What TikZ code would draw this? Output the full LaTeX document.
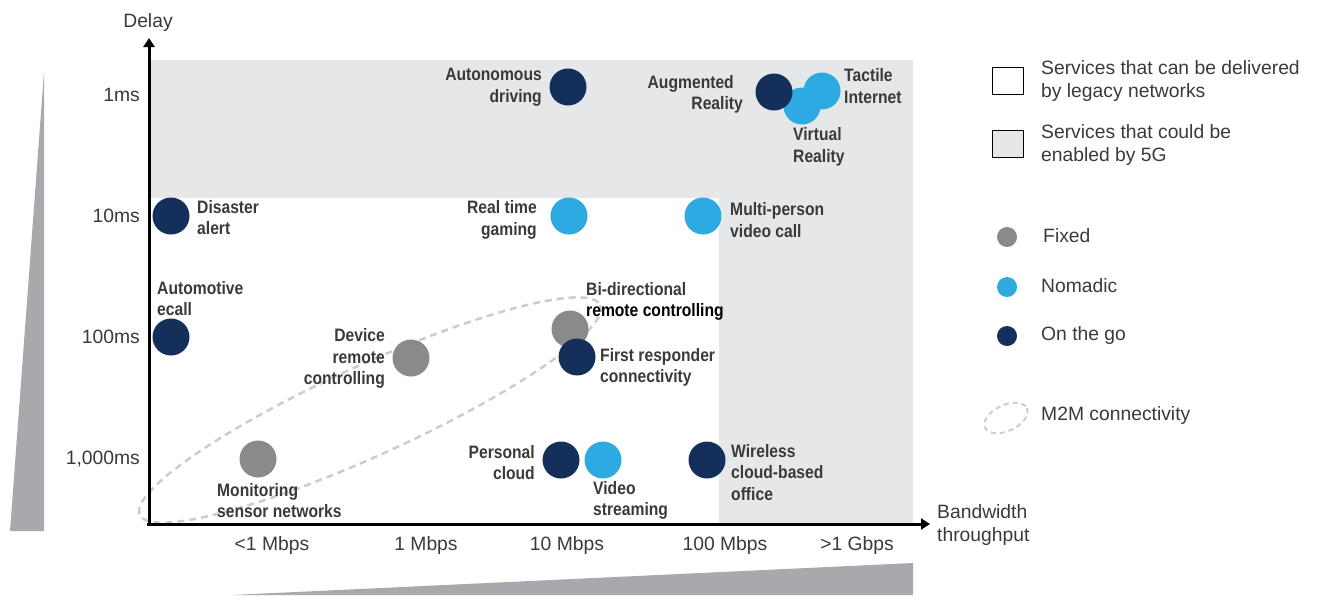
\documentclass[tikz,border=0pt]{standalone}
\usepackage{fontspec}
\setmainfont{Liberation Sans}
\newfontfamily\labfont[FakeStretch=0.87]{Liberation Sans}
\usetikzlibrary{arrows.meta}
\definecolor{ongo}{HTML}{14305A}
\definecolor{nomad}{HTML}{2DAAE1}
\definecolor{fixedgray}{HTML}{8B8A8B}
\definecolor{bggray}{HTML}{E6E7E8}
\definecolor{wedgegray}{HTML}{A7A9AC}
\definecolor{txt}{HTML}{3A3A3A}
\definecolor{dashgray}{HTML}{CCCCCC}
\begin{document}
\begin{tikzpicture}[x=1pt,y=-1pt,
  dot/.style={circle,minimum size=37pt,inner sep=0pt},
  fixedc/.style={dot,fill=fixedgray},
  nomadc/.style={dot,fill=nomad},
  ongoc/.style={dot,fill=ongo},
  legdot/.style={circle,minimum size=20pt,inner sep=0pt},
  lab/.style={font=\labfont\bfseries\fontsize{18}{21.5}\selectfont, text=txt, inner sep=0pt},
  reg/.style={font=\fontsize{19.3}{23}\selectfont, text=txt, inner sep=0pt},
  axisline/.style={line width=3pt, -{Triangle[length=9pt,width=11pt]}},
  m2m/.style={dashgray, line width=2.5pt, dash pattern=on 7pt off 5pt},
  legbox/.style={draw=black, line width=1pt, minimum width=31pt, minimum height=27pt, inner sep=0pt},
]
\useasboundingbox (0,0) rectangle (1319,595);

% wedges
\fill[wedgegray] (44,72) -- (44,531) -- (10,531) -- cycle;
\fill[wedgegray] (232,595) -- (913,563) -- (913,595) -- cycle;

% 5G region
\fill[bggray] (151,60) -- (913,60) -- (913,523) -- (719,523) -- (719,198) -- (151,198) -- cycle;

% M2M ellipse
\draw[m2m, rotate around={24.5:(370,410)}] (370,410) ellipse [x radius=253, y radius=45];

% axes
\coordinate (origin) at (149,524);
\coordinate (ytip) at (149,38);
\coordinate (xstart) at (147,524);
\coordinate (xtip) at (930,524);
\draw[axisline] (origin) -- (ytip);
\draw[axisline] (xstart) -- (xtip);

\node[reg] (delay) at (148,23) {Delay};
\node[reg, anchor=west, align=left] (bw) at (937,525) {Bandwidth\\throughput};

% y ticks
\node[reg, anchor=east] (y1) at (140,95) {1ms};
\node[reg, anchor=east] (y2) at (140,216) {10ms};
\node[reg, anchor=east] (y3) at (140,337) {100ms};
\node[reg, anchor=east] (y4) at (140,459) {1,000ms};

% x ticks
\node[reg] (x1) at (272,545) {<1 Mbps};
\node[reg] (x2) at (426,545) {1 Mbps};
\node[reg] (x3) at (567,545) {10 Mbps};
\node[reg] (x4) at (725,545) {100 Mbps};
\node[reg] (x5) at (857,545) {>1 Gbps};

% circles
\node[ongoc] (cAD) at (568,87) {};
\node[nomadc] (cVR) at (802,106) {};
\node[nomadc] (cTI) at (822,91) {};
\node[ongoc] (cAR) at (774,92) {};
\node[nomadc] (cRT) at (569,216) {};
\node[nomadc] (cMP) at (703,216) {};
\node[ongoc] (cDA) at (171,216) {};
\node[ongoc] (cAE) at (171,337) {};
\node[fixedc] (cDR) at (411,358) {};
\node[fixedc] (cBD) at (570,329) {};
\node[ongoc] (cFR) at (577,357) {};
\node[fixedc] (cMS) at (258,459) {};
\node[ongoc] (cPC) at (561,460) {};
\node[nomadc] (cVS) at (603,460) {};
\node[ongoc] (cWC) at (707,460) {};

% labels
\node[lab, anchor=east, align=right] (tAD) at (542,87) {Autonomous\\driving};
\node[lab, anchor=east, align=right] (tAR) at (743,94.5) {Augmented\hspace*{9pt}\\Reality};
\node[lab, anchor=west, align=left] (tTI) at (844,86) {Tactile\\Internet};
\node[lab, anchor=west, align=left] (tVR) at (793,147) {Virtual\\Reality};
\node[lab, anchor=east, align=right] (tRT) at (537,220) {Real time\\gaming};
\node[lab, anchor=west, align=left] (tMP) at (730,220) {Multi-person\\video call};
\node[lab, anchor=west, align=left] (tDA) at (197,217.5) {Disaster\\alert};
\node[lab, anchor=west, align=left] (tAE) at (157,298.5) {Automotive\\ecall};
\node[lab, anchor=east, align=right] (tDR) at (385,358.5) {Device\\remote\\controlling};
\node[lab, anchor=west, align=left] (tBD) at (586,301.5) {Bi-directional\\{\color{black}remote controlling}};
\node[lab, anchor=west, align=left] (tFR) at (600,367.5) {First responder\\connectivity};
\node[lab, anchor=west, align=left] (tMS) at (217,500.5) {Monitoring\\sensor networks};
\node[lab, anchor=east, align=right] (tPC) at (535,462.5) {Personal\\cloud};
\node[lab, anchor=west, align=left] (tVS) at (593,500.5) {Video\\streaming};
\node[lab, anchor=west, align=left] (tWC) at (731,472.5) {Wireless\\cloud-based\\office};

% legend
\node[legbox, fill=white] (lb1) at (1007.5,80.5) {};
\node[reg, anchor=west, align=left] (lt1) at (1041,81) {Services that can be delivered\\by legacy networks};
\node[legbox, fill=bggray] (lb2) at (1007.5,144) {};
\node[reg, anchor=west, align=left] (lt2) at (1041,145) {Services that could be\\enabled by 5G};
\node[legdot, fill=fixedgray] (ld1) at (1007,237) {};
\node[reg, anchor=west] (lt3) at (1043,236) {Fixed};
\node[legdot, fill=nomad] (ld2) at (1007,287) {};
\node[reg, anchor=west] (lt4) at (1041,286) {Nomadic};
\node[legdot, fill=ongo] (ld3) at (1007,336) {};
\node[reg, anchor=west] (lt5) at (1041,336) {On the go};
\draw[dashgray, line width=2pt, dash pattern=on 5pt off 4pt, rotate around={25:(1006,418)}] (1006,418) ellipse [x radius=23, y radius=13];
\node[reg, anchor=west] (lt6) at (1041,416) {M2M connectivity};
\end{tikzpicture}
\end{document}
